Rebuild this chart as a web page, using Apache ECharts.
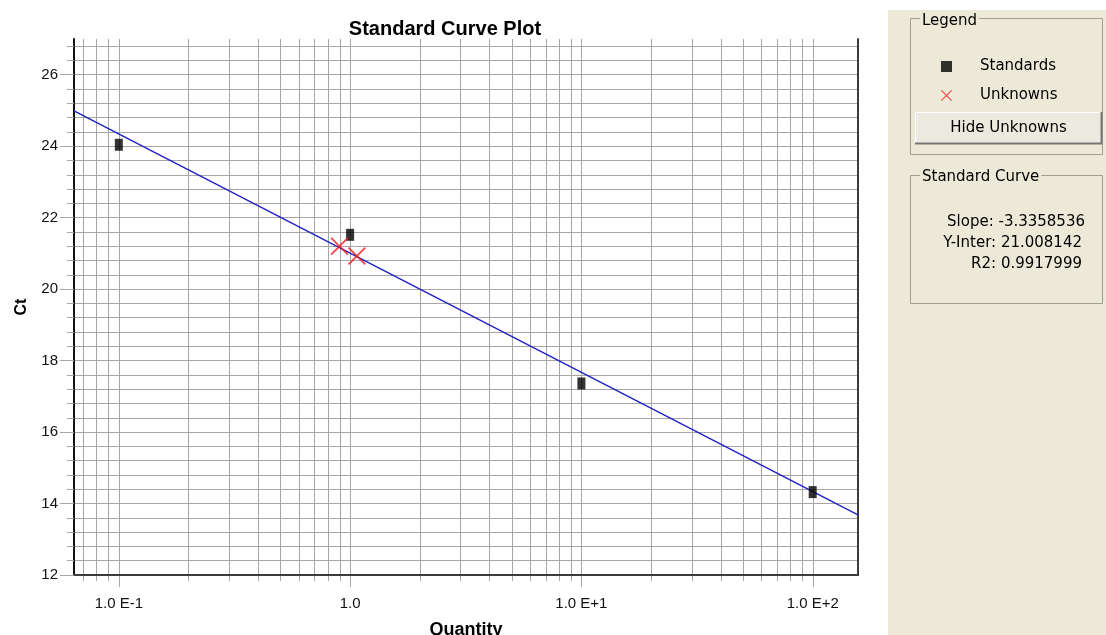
<!DOCTYPE html>
<html>
<head>
<meta charset="utf-8">
<title>Standard Curve Plot</title>
<script src="https://cdn.jsdelivr.net/npm/echarts@6/dist/echarts.min.js"></script>
<style>
  html, body { margin: 0; padding: 0; background: #ffffff; }
  #chart { width: 1106px; height: 635px; }
</style>
</head>
<body>
<div id="chart"></div>
<script>
// Standard dilution series: quantity and measured Ct
const standardQty = [0.1, 1, 10, 100];
const standardCt = [24.04, 21.52, 17.36, 14.32];

// Unknown samples placed on the curve
const unknownQty = [0.90, 1.07];
const unknownCt = [21.20, 20.93];

// Fitted standard curve (Ct = slope * log10(qty) + intercept)
const curveSlope = -3.3358536;
const curveIntercept = 21.008142;
const curveR2 = 0.9917999;

// Axis ranges and tick labels
const xRange = [0.064, 157];
const yRange = [12, 27];
const yTicks = [12, 14, 16, 18, 20, 22, 24, 26];
const xTicks = [0.1, 1, 10, 100];
const xTickLabels = ['1.0 E-1', '1.0', '1.0 E+1', '1.0 E+2'];

const GRID_GREY = '#a6a6a6';
const PANEL_BG = '#ece9d8';
const UI_FONT = 'DejaVu Sans';
const AXIS_FONT = 'Liberation Sans';

// Vertical log grid: 1..9 within every decade that touches the range
const logGrid = [];
[0.01, 0.1, 1, 10, 100].forEach(function (d) {
  for (let m = 1; m <= 9; m++) {
    const q = Number((m * d).toPrecision(6));
    if (q > xRange[0] && q < xRange[1]) logGrid.push([q, m === 1 ? 1 : 0]);
  }
});

// Horizontal minor grid every 0.4 Ct
const yMinor = [];
for (let k = 0; yRange[0] + k * 0.4 < yRange[1] - 1e-9; k++) {
  yMinor.push(Number((yRange[0] + k * 0.4).toFixed(1)));
}

const xSymbol = 'path://M0,1.4 L1.4,0 L10,8.6 L18.6,0 L20,1.4 L11.4,10 L20,18.6 L18.6,20 L10,11.4 L1.4,20 L0,18.6 L8.6,10 Z';

function xLabel(v) {
  const e = Math.log10(v);
  const r = Math.round(e);
  if (Math.abs(e - r) > 1e-6) return '';
  const i = xTicks.findIndex(function (t) { return Math.abs(Math.log10(t) - r) < 1e-6; });
  return i >= 0 ? xTickLabels[i] : '';
}

function curveAt(q) {
  return curveIntercept + curveSlope * Math.log10(q);
}

const chart = echarts.init(document.getElementById('chart'), null, { renderer: 'canvas' });

const option = {
  animation: false,
  backgroundColor: '#ffffff',
  title: {
    text: 'Standard Curve Plot',
    left: 445,
    top: 19,
    textAlign: 'center',
    padding: 0,
    textStyle: { fontFamily: AXIS_FONT, fontSize: 20, fontWeight: 'bold', color: '#000' }
  },
  grid: { left: 74, right: 248, top: 39, bottom: 60, outerBoundsMode: 'none', containLabel: false },
  legend: {
    data: ['Standards', 'Unknowns'],
    orient: 'vertical',
    left: 941,
    top: 59,
    padding: 0,
    itemGap: 14,
    itemWidth: 11,
    itemHeight: 11,
    selectedMode: false,
    textStyle: { fontFamily: UI_FONT, fontSize: 15, color: '#000', padding: [0, 0, 0, 23] }
  },
  xAxis: [
    {
      type: 'log',
      logBase: 10,
      min: xRange[0],
      max: xRange[1],
      position: 'bottom',
      z: 1,
      axisLine: { show: true, onZero: false, lineStyle: { color: '#111', width: 2 } },
      axisTick: { show: false },
      splitLine: { show: false },
      axisLabel: { formatter: xLabel, margin: 21, color: '#111', fontFamily: AXIS_FONT, fontSize: 15 },
      name: 'Quantity',
      nameLocation: 'middle',
      nameGap: 46,
      nameTextStyle: { fontFamily: AXIS_FONT, fontSize: 18, fontWeight: 'bold', color: '#000' }
    },
    {
      type: 'value',
      position: 'top',
      min: 0,
      max: 1,
      z: 1,
      axisLine: { show: true, lineStyle: { color: '#3c3c3c', width: 2 } },
      axisTick: { show: false },
      axisLabel: { show: false },
      splitLine: { show: false }
    }
  ],
  yAxis: [
    {
      type: 'value',
      min: yRange[0],
      max: yRange[1],
      interval: 2,
      position: 'left',
      z: 1,
      axisLine: { show: true, onZero: false, lineStyle: { color: '#111', width: 2 } },
      axisTick: { show: true, length: 14, customValues: yTicks, lineStyle: { color: GRID_GREY } },
      axisLabel: {
        formatter: function (v) { return yTicks.indexOf(v) >= 0 ? String(v) : ''; },
        margin: 16, color: '#111', fontFamily: AXIS_FONT, fontSize: 15
      },
      splitLine: { show: false },
      name: 'Ct',
      nameLocation: 'middle',
      nameGap: 44,
      nameTextStyle: { fontFamily: AXIS_FONT, fontSize: 16, fontWeight: 'bold', color: '#000' }
    },
    {
      type: 'value',
      min: yRange[0],
      max: yRange[1],
      interval: 0.4,
      position: 'left',
      z: 1,
      axisLine: { show: false },
      axisLabel: { show: false },
      axisTick: { show: true, length: 7, customValues: yMinor, lineStyle: { color: GRID_GREY } },
      splitLine: { show: true, lineStyle: { color: GRID_GREY, width: 1 } }
    },
    {
      type: 'value',
      position: 'right',
      min: 0,
      max: 1,
      z: 1,
      axisLine: { show: true, lineStyle: { color: '#3c3c3c', width: 2 } },
      axisTick: { show: false },
      axisLabel: { show: false },
      splitLine: { show: false }
    }
  ],
  series: [
    {
      // decade and sub-decade vertical grid lines, with ticks below the axis
      type: 'custom',
      name: 'logGrid',
      xAxisIndex: 0,
      yAxisIndex: 0,
      z: 1,
      silent: true,
      clip: false,
      data: logGrid,
      encode: { x: 0 },
      renderItem: function (params, api) {
        const q = api.value(0);
        const top = api.coord([q, yRange[1]]);
        const bot = api.coord([q, yRange[0]]);
        const x = Math.round(top[0]) + 0.5;
        return {
          type: 'line',
          z2: 0,
          shape: { x1: x, y1: top[1], x2: x, y2: bot[1] + (api.value(1) ? 12 : 6) },
          style: { stroke: GRID_GREY, lineWidth: 1 }
        };
      }
    },
    {
      type: 'line',
      name: 'Standard Curve',
      xAxisIndex: 0,
      yAxisIndex: 0,
      z: 2,
      silent: true,
      symbol: 'none',
      data: [[xRange[0], curveAt(xRange[0])], [xRange[1], curveAt(xRange[1])]],
      lineStyle: { color: '#2323c4', width: 1.5 }
    },
    {
      type: 'scatter',
      name: 'Standards',
      xAxisIndex: 0,
      yAxisIndex: 0,
      z: 3,
      symbol: 'rect',
      symbolSize: [8, 12],
      itemStyle: { color: '#000' },
      data: standardQty.map(function (q, i) { return [q, standardCt[i]]; })
    },
    {
      type: 'scatter',
      name: 'Unknowns',
      xAxisIndex: 0,
      yAxisIndex: 0,
      z: 4,
      symbol: xSymbol,
      symbolSize: 18,
      itemStyle: { color: '#f01818' },
      data: unknownQty.map(function (q, i) { return [q, unknownCt[i]]; })
    }
  ],
  graphic: [
    // side panel
    { type: 'rect', silent: true, z: -10, shape: { x: 888, y: 10, width: 218, height: 625 }, style: { fill: PANEL_BG } },
    // Legend group box
    { type: 'rect', silent: true, shape: { x: 910.5, y: 18.5, width: 192, height: 136 }, style: { fill: 'none', stroke: '#a09f95', lineWidth: 1 } },
    { type: 'text', silent: true, style: { x: 920, y: 21, text: 'Legend', fontFamily: UI_FONT, fontSize: 15, fill: '#000', align: 'left', verticalAlign: 'middle', backgroundColor: PANEL_BG, padding: [0, 2] } },
    // Hide Unknowns button
    { type: 'rect', silent: true, shape: { x: 915, y: 112, width: 186, height: 31 }, style: { fill: '#ecEAde' } },
    { type: 'polyline', silent: true, shape: { points: [[915.5, 143], [915.5, 112.5], [1101, 112.5]] }, style: { stroke: '#ffffff', lineWidth: 1, fill: 'none' } },
    { type: 'polyline', silent: true, shape: { points: [[915, 143.5], [1101.5, 143.5], [1101.5, 112]] }, style: { stroke: '#767676', lineWidth: 2, fill: 'none' } },
    { type: 'text', silent: true, style: { x: 1008.5, y: 128, text: 'Hide Unknowns', fontFamily: UI_FONT, fontSize: 15, fill: '#000', align: 'center', verticalAlign: 'middle' } },
    // Standard Curve group box
    { type: 'rect', silent: true, shape: { x: 910.5, y: 175.5, width: 192, height: 128 }, style: { fill: 'none', stroke: '#a09f95', lineWidth: 1 } },
    { type: 'text', silent: true, style: { x: 920, y: 177, text: 'Standard Curve', fontFamily: UI_FONT, fontSize: 15, fill: '#000', align: 'left', verticalAlign: 'middle', backgroundColor: PANEL_BG, padding: [0, 2] } },
    { type: 'text', silent: true, style: { x: 1085, y: 222, text: 'Slope: ' + curveSlope, fontFamily: UI_FONT, fontSize: 15, fill: '#000', align: 'right', verticalAlign: 'middle' } },
    { type: 'text', silent: true, style: { x: 1082, y: 243, text: 'Y-Inter: ' + curveIntercept, fontFamily: UI_FONT, fontSize: 15, fill: '#000', align: 'right', verticalAlign: 'middle' } },
    { type: 'text', silent: true, style: { x: 1082, y: 264, text: 'R2: ' + curveR2, fontFamily: UI_FONT, fontSize: 15, fill: '#000', align: 'right', verticalAlign: 'middle' } }
  ]
};

chart.setOption(option);
</script>
</body>
</html>
